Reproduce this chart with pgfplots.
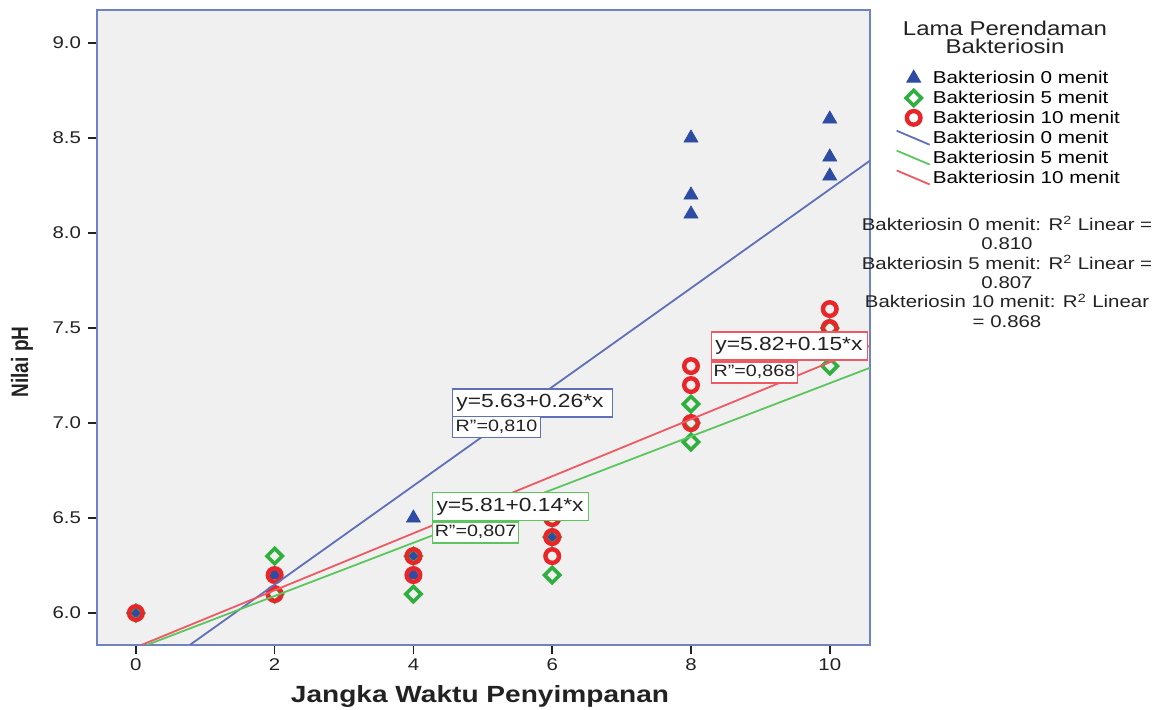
\documentclass[border=0pt]{standalone}
\usepackage{pgfplots}
\pgfplotsset{compat=1.18}
\usepackage{fontspec}
\setmainfont{Liberation Sans}[FakeStretch=1.2]
\newfontfamily\plainsans{Liberation Sans}
\definecolor{bggray}{HTML}{F0F0F0}
\definecolor{axisblue}{HTML}{6F83C2}
\definecolor{markblue}{HTML}{2F4CA4}
\definecolor{markgreen}{HTML}{2EAF3E}
\definecolor{markred}{HTML}{E8262A}
\definecolor{lineblue}{HTML}{5F70B8}
\definecolor{linegreen}{HTML}{5DC55D}
\definecolor{linered}{HTML}{EE5A63}
\definecolor{txt}{HTML}{222222}
\pgfplotsset{diaglegend/.style={legend image code/.code={\draw[##1] (0pt,3.5pt) -- (16.5pt,-3.5pt);}}}
\begin{document}
\begin{tikzpicture}[x=1pt,y=1pt]
\useasboundingbox (0,0) rectangle (577,355);
\begin{axis}[
  at={(48.5pt,32.5pt)}, anchor=south west,
  width=386.5pt, height=317.5pt, scale only axis,
  xmin=-0.56, xmax=10.58, ymin=5.832, ymax=9.174,
  axis background/.style={fill=bggray},
  axis line style={color=axisblue, line width=0.9pt},
  xtick={0,2,4,6,8,10}, ytick={6,6.5,7,7.5,8,8.5,9},
  tick align=outside, major tick length=4.5pt,
  tick style={color=txt, line width=0.8pt},
  xtick pos=bottom, ytick pos=left,
  clip marker paths=true,
  /pgf/number format/assume math mode=true,
  ticklabel style={font=\fontsize{8.5}{9}\selectfont, text=txt},
  yticklabel style={/pgf/number format/.cd, fixed, fixed zerofill, precision=1},
  xticklabel style={yshift=1pt},
  legend style={at={(1.025,0.914)}, anchor=north west, draw=none, fill=none,
    font=\fontsize{8.6}{10}\selectfont, row sep=0.8pt,
    nodes={inner sep=1.2pt, text depth=0.5pt}},
  legend cell align=left,
]
% scatter: Bakteriosin 0 menit
\addplot[only marks, mark=triangle*, mark size=4pt, color=markblue, mark options={fill=markblue}]
  coordinates {(0,6.0) (2,6.2) (4,6.5) (4,6.3) (4,6.2) (6,6.4) (8,8.5) (8,8.2) (8,8.1) (10,8.6) (10,8.4) (10,8.3)};
\addlegendentry{Bakteriosin 0 menit}
% scatter: Bakteriosin 5 menit
\addplot[only marks, mark=square, mark size=2.7pt, color=markgreen, mark options={line width=1.8pt, rotate=45}]
  coordinates {(0,6.0) (2,6.3) (2,6.1) (4,6.3) (4,6.1) (6,6.4) (6,6.2) (8,7.1) (8,7.0) (8,6.9) (10,7.5) (10,7.3)};
\addlegendentry{Bakteriosin 5 menit}
% scatter: Bakteriosin 10 menit
\addplot[only marks, mark=o, mark size=3.4pt, color=markred, mark options={line width=2.2pt}]
  coordinates {(0,6.0) (2,6.2) (2,6.1) (4,6.3) (4,6.2) (6,6.5) (6,6.4) (6,6.3) (8,7.3) (8,7.2) (8,7.0) (10,7.6) (10,7.5) (10,7.4)};
\addlegendentry{Bakteriosin 10 menit}
% fit lines
\addplot[lineblue, line width=0.9pt, mark=none, diaglegend]
  coordinates {(0.777,5.832) (10.58,8.381)};
\addlegendentry{Bakteriosin 0 menit}
\addplot[linegreen, line width=0.9pt, mark=none, diaglegend]
  coordinates {(0.157,5.832) (10.58,7.291)};
\addlegendentry{Bakteriosin 5 menit}
\addplot[linered, line width=0.9pt, mark=none, diaglegend]
  coordinates {(0.08,5.832) (10.58,7.407)};
\addlegendentry{Bakteriosin 10 menit}
% equation boxes
\node[draw=lineblue, line width=0.7pt, fill=white, anchor=north west, text width=76pt, minimum height=14pt, align=left, inner sep=2pt, font=\fontsize{9.5}{11}\selectfont, text=txt] at (axis cs:4.553,7.184) {y=5.63+0.26*x};
\node[draw=lineblue, line width=0.7pt, fill=white, anchor=north west, minimum width=44pt, minimum height=10.5pt, inner sep=1pt, font=\fontsize{8.2}{10}\selectfont, text=txt] at (axis cs:4.553,7.037) {R"=0,810};
\node[draw=linegreen, line width=0.7pt, fill=white, anchor=north west, text width=74pt, minimum height=14pt, align=left, inner sep=2pt, font=\fontsize{9.5}{11}\selectfont, text=txt] at (axis cs:4.265,6.637) {y=5.81+0.14*x};
\node[draw=linegreen, line width=0.7pt, fill=white, anchor=north west, minimum width=43pt, minimum height=10.5pt, inner sep=1pt, font=\fontsize{8.2}{10}\selectfont, text=txt] at (axis cs:4.265,6.484) {R"=0,807};
\node[draw=linered, line width=0.7pt, fill=white, anchor=north west, text width=74pt, minimum height=14pt, align=left, inner sep=2pt, font=\fontsize{9.5}{11}\selectfont, text=txt] at (axis cs:8.285,7.484) {y=5.82+0.15*x};
\node[draw=linered, line width=0.7pt, fill=white, anchor=north west, minimum width=43pt, minimum height=10.5pt, inner sep=1pt, font=\fontsize{8.2}{10}\selectfont, text=txt] at (axis cs:8.285,7.326) {R"=0,868};
\end{axis}
% axis titles
\node[font=\bfseries\fontsize{11.7}{14}\selectfont, text=txt] at (240,6.5) {Jangka Waktu Penyimpanan};
\node[font=\plainsans\bfseries\fontsize{9.5}{12}\selectfont, text=txt, rotate=90] at (11,174) {\scalebox{1}[1.25]{Nilai pH}};
% legend title
\node[font=\fontsize{10}{9}\selectfont, text=txt, align=center] at (502.5,336.5) {Lama Perendaman\\Bakteriosin};
% R squared notes
\node[font=\fontsize{8.5}{9.7}\selectfont, text=txt, align=center] at (503.5,219) {Bakteriosin 0 menit: R\textsuperscript{2} Linear =\\0.810\\Bakteriosin 5 menit: R\textsuperscript{2} Linear =\\0.807\\Bakteriosin 10 menit: R\textsuperscript{2} Linear\\= 0.868};
\end{tikzpicture}
\end{document}
